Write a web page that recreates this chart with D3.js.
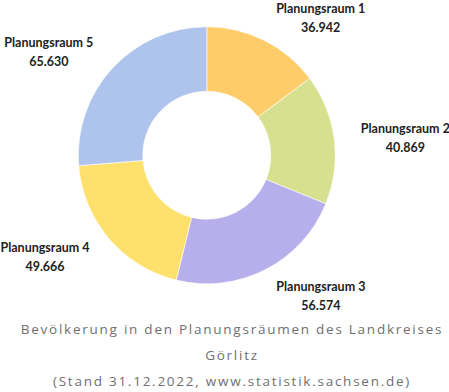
<!DOCTYPE html>
<html>
<head>
<meta charset="utf-8">
<script src="https://cdn.jsdelivr.net/npm/d3@7"></script>
<style>
  html, body { margin: 0; padding: 0; background: #fff; }
  svg { display: block; }
</style>
</head>
<body>
<svg id="chart" width="449" height="392"></svg>
<script>
const categories = ["Planungsraum 1", "Planungsraum 2", "Planungsraum 3", "Planungsraum 4", "Planungsraum 5"];
const values = [36942, 40869, 56574, 49666, 65630];
const valueLabels = ["36.942", "40.869", "56.574", "49.666", "65.630"];
const colors = ["#FECC68", "#D6E08E", "#B7AFEB", "#FEE06C", "#AFC4EC"];
const titleLines = [
  "Bevölkerung in den Planungsräumen des Landkreises",
  "Görlitz",
  "(Stand 31.12.2022, www.statistik.sachsen.de)"
];
// label nudges relative to the outer label arc centroid (layout only)
const labelNudge = [[31, 28], [15, 6], [30, -24], [-21, -18], [-22, 22]];

const svg = d3.select("#chart");
const cx = 206.8, cy = 155.3, outerR = 128.5, innerR = 64;

const data = categories.map((c, i) => ({ name: c, value: values[i], label: valueLabels[i], color: colors[i], nudge: labelNudge[i] }));

const pie = d3.pie().value(d => d.value).sort(null);
const arcs = pie(data);
const arc = d3.arc().innerRadius(innerR).outerRadius(outerR);
const labelArc = d3.arc().innerRadius(185).outerRadius(185);

const g = svg.append("g").attr("transform", `translate(${cx},${cy})`);
g.selectAll("path")
  .data(arcs)
  .join("path")
  .attr("d", arc)
  .attr("fill", d => d.data.color)
  .attr("stroke", "#fff")
  .attr("stroke-width", 0.6);

const lbl = g.selectAll("g.lbl")
  .data(arcs)
  .join("g")
  .attr("class", "lbl")
  .attr("transform", d => {
    const [x, y] = labelArc.centroid(d);
    return `translate(${x + d.data.nudge[0]},${y + d.data.nudge[1]})`;
  });
lbl.append("text")
  .attr("text-anchor", "middle")
  .attr("y", -9.5)
  .attr("dy", "0.35em")
  .style("font-family", "Lato, 'Open Sans', sans-serif")
  .style("font-weight", 700)
  .style("font-size", "12.5px")
  .attr("fill", "#222")
  .text(d => d.data.name);
lbl.append("text")
  .attr("text-anchor", "middle")
  .attr("y", 9.5)
  .attr("dy", "0.35em")
  .style("font-family", "Lato, 'Open Sans', sans-serif")
  .style("font-weight", 700)
  .style("font-size", "12.5px")
  .attr("fill", "#222")
  .text(d => d.data.label);

svg.append("g")
  .selectAll("text")
  .data(titleLines)
  .join("text")
  .attr("x", 232)
  .attr("y", (d, i) => 329 + i * 26)
  .attr("dy", "0.35em")
  .attr("text-anchor", "middle")
  .style("font-family", "'Open Sans', sans-serif")
  .style("font-size", "13.5px")
  .style("letter-spacing", "1.75px")
  .attr("fill", "#6f6f6f")
  .text(d => d);
</script>
</body>
</html>
